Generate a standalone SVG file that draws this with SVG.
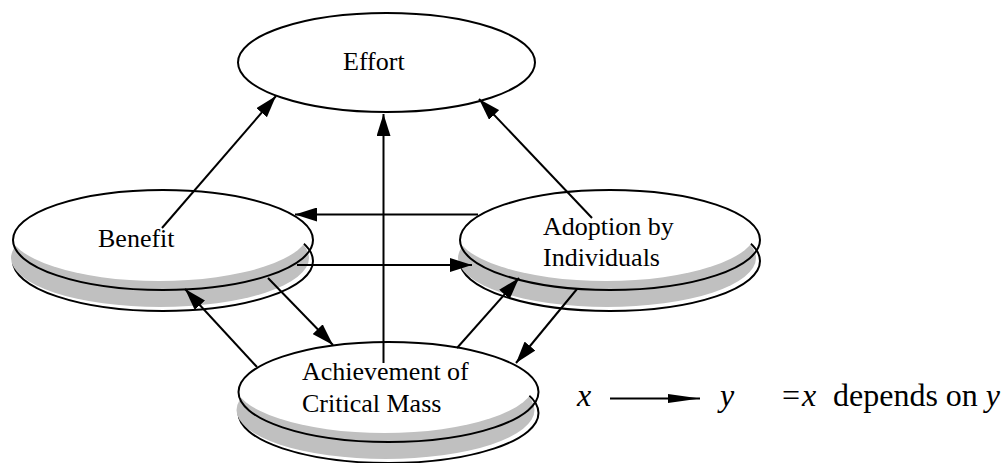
<svg xmlns="http://www.w3.org/2000/svg" xmlns:xlink="http://www.w3.org/1999/xlink" width="1002" height="463" viewBox="0 0 1002 463">
  <style>
    .lbl { font-family: "Liberation Serif", "Times New Roman", serif; font-size: 26px; fill: #000; }
    .leg { font-family: "Liberation Serif", "Times New Roman", serif; font-size: 32px; fill: #000; }
    .it { font-style: italic; }
    .edge { stroke: #000; stroke-width: 2; fill: none; marker-end: url(#ah); }
    .outline { fill: none; stroke: #000; stroke-width: 2; }
  </style>
  <defs>
    <marker id="ah" viewBox="0 0 22 14" refX="22" refY="7" markerWidth="22" markerHeight="14" markerUnits="userSpaceOnUse" orient="auto">
      <path d="M0,0 L22,7 L0,14 z" fill="#000"/>
    </marker>
    <marker id="ahLeg" viewBox="0 0 32 9" refX="32" refY="4.5" markerWidth="32" markerHeight="9" markerUnits="userSpaceOnUse" orient="auto">
      <path d="M0,0 L32,4.5 L0,9 z" fill="#000"/>
    </marker>
    <g id="disk">
      <ellipse cx="0" cy="21" rx="150" ry="50" fill="#fff" stroke="#000" stroke-width="2"/>
      <ellipse cx="-3" cy="18" rx="149" ry="49" fill="#c0c0c0"/>
      <ellipse cx="-4" cy="-9" rx="150" ry="50" fill="#fff"/>
      <ellipse cx="0" cy="0" rx="150" ry="50" class="outline"/>
    </g>
  </defs>
  <rect width="1002" height="463" fill="#fff"/>

  <g id="effort">
    <ellipse cx="386.5" cy="62.5" rx="148.5" ry="49.5" fill="#fff" stroke="#000" stroke-width="2"/>
    <text class="lbl" x="343" y="70">Effort</text>
  </g>

  <g id="benefit">
    <use xlink:href="#disk" href="#disk" x="163" y="240"/>
    <text class="lbl" x="98" y="247">Benefit</text>
  </g>

  <g id="adoption">
    <use xlink:href="#disk" href="#disk" x="610" y="240"/>
    <text class="lbl" x="543" y="235">Adoption by</text>
    <text class="lbl" x="543" y="266">Individuals</text>
  </g>

  <g id="critical-mass">
    <use xlink:href="#disk" href="#disk" x="388.5" y="392"/>
    <text class="lbl" x="302" y="380">Achievement of</text>
    <text class="lbl" x="302" y="412">Critical Mass</text>
  </g>

  <g id="connectors">
    <line class="edge" x1="162" y1="228" x2="276" y2="96"/>
    <line class="edge" x1="383.5" y1="363" x2="383.5" y2="114"/>
    <line class="edge" x1="592" y1="218" x2="479" y2="99"/>
    <line class="edge" x1="478" y1="214.5" x2="295" y2="214.5"/>
    <line class="edge" x1="297" y1="265" x2="472" y2="265"/>
    <line class="edge" x1="257" y1="367" x2="185" y2="289"/>
    <line class="edge" x1="268" y1="278" x2="333" y2="345"/>
    <line class="edge" x1="457" y1="348" x2="519" y2="278"/>
    <line class="edge" x1="577" y1="289" x2="516" y2="363"/>
  </g>

  <g id="legend">
    <text class="leg it" x="577" y="406">x</text>
    <line x1="610" y1="398.5" x2="700" y2="398.5" stroke="#000" stroke-width="2" marker-end="url(#ahLeg)"/>
    <text class="leg it" x="720" y="406">y</text>
    <text class="leg" x="782" y="406">=</text>
    <text class="leg it" x="802" y="406">x</text>
    <text class="leg" x="833" y="406">depends on <tspan class="it">y</tspan></text>
  </g>
</svg>
